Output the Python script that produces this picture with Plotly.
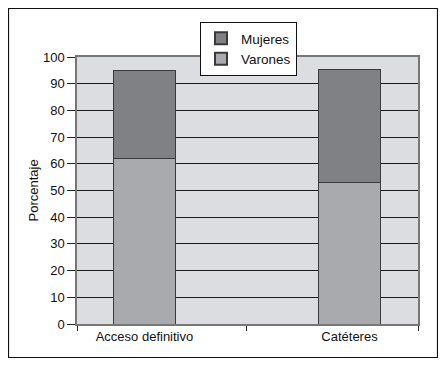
import plotly.graph_objects as go

categories = ["Acceso definitivo", "Catéteres"]
varones = [62, 53]
mujeres = [33, 42.5]
y_ticks = list(range(0, 101, 10))

OFF = 8  # page body margin
W, H = 446 - OFF, 367 - OFF
L, T = 77 - OFF, 57 - OFF
R, B = W - (418 - OFF), H - (324 - OFF)
pw, ph = W - L - R, H - T - B

xpos = [0, 1]
xr = [-0.329, 1.334]

fig = go.Figure()
fig.add_trace(go.Bar(x=xpos, y=varones, name="Varones", width=0.3,
                     marker=dict(color="#a9aaae", line=dict(color="#3a3a3a", width=1))))
fig.add_trace(go.Bar(x=xpos, y=mujeres, name="Mujeres", width=0.3,
                     marker=dict(color="#808185", line=dict(color="#3a3a3a", width=1))))

font = dict(family="Liberation Sans, Arial, sans-serif", size=13, color="#111")

def px_x(p):
    return (p - OFF - L) / pw

def px_y(p):
    return (H - B - (p - OFF)) / ph

# outer frame
fig.add_shape(type="rect", xref="paper", yref="paper",
              x0=px_x(8.5), x1=px_x(437.5), y0=px_y(357.5), y1=px_y(8.5),
              line=dict(color="#111", width=1.2), fillcolor="rgba(0,0,0,0)", layer="below")
# legend shadow
fig.add_shape(type="rect", xref="paper", yref="paper",
              x0=px_x(204), x1=px_x(292), y0=px_y(73), y1=px_y(26),
              line=dict(width=0), fillcolor="rgba(110,110,110,0.55)", layer="above")

fig.add_annotation(text="Porcentaje", xref="paper", yref="paper",
                   x=px_x(33), y=0.5, textangle=-90, showarrow=False,
                   xanchor="center", yanchor="middle", font=font)

fig.update_layout(
    width=W, height=H,
    margin=dict(l=L, r=R, t=T, b=B, autoexpand=False),
    paper_bgcolor="white",
    plot_bgcolor="#dcdde0",
    barmode="stack",
    font=font,
    showlegend=True,
    legend=dict(x=px_x(200), y=px_y(22), xanchor="left", yanchor="top",
                bgcolor="white", bordercolor="#111", borderwidth=1,
                traceorder="reversed", font=dict(size=13.5),
                itemsizing="constant", itemwidth=30, tracegroupgap=0),
    xaxis=dict(range=xr, tickvals=xpos, ticktext=categories, ticks="",
               showgrid=False, zeroline=False, showline=True, linecolor="#777",
               linewidth=1.5, mirror=True,
               minor=dict(tickvals=[xr[0], 0.5, xr[1]], ticks="outside",
                          ticklen=5, tickcolor="#222", tickwidth=1, showgrid=False),
               tickfont=font),
    yaxis=dict(range=[0, 100], tickvals=y_ticks, ticks="outside", ticklen=8,
               tickcolor="#222", showgrid=True, gridcolor="#1a1a1a", gridwidth=1,
               zeroline=False, showline=True, linecolor="#777", linewidth=1.5,
               mirror=True, tickfont=font),
)

fig.write_html("out.html")
